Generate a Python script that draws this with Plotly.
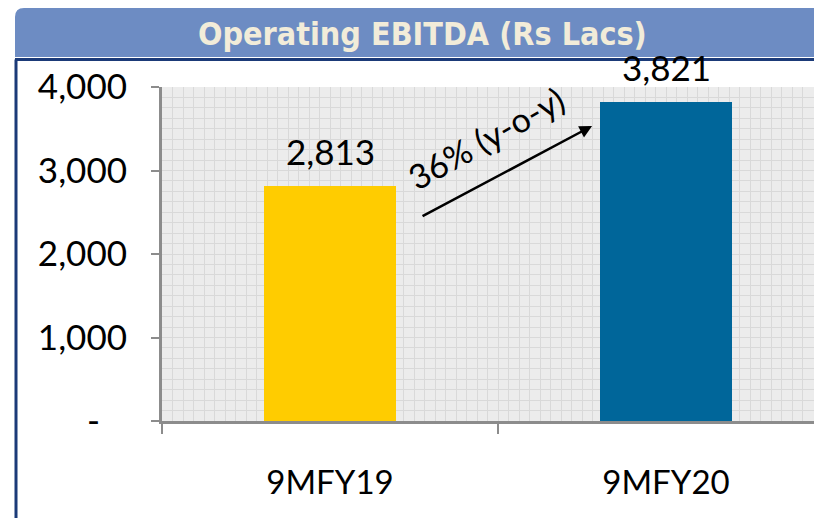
import plotly.graph_objects as go

# ---- data ----
categories = ["9MFY19", "9MFY20"]
ebitda = [2813, 3821]
bar_colors = ["#FFCC00", "#00669A"]
y_tickvals = [0, 1000, 2000, 3000, 4000]
y_ticktext = ["-\u00a0\u00a0\u00a0", "1,000", "2,000", "3,000", "4,000"]
title_text = "Operating EBITDA (Rs Lacs)"
growth_text = "36% (y-o-y)"

FONT = "Lato, 'Open Sans', sans-serif"
AXIS_GRAY = "#8c8c8c"
GRID = "#d9d9d9"

xpos = [i + 0.5 for i in range(len(categories))]

fig = go.Figure()
fig.add_trace(go.Bar(
    x=xpos, y=ebitda, width=0.395,
    marker=dict(color=bar_colors, line=dict(width=0)),
    hoverinfo="skip", showlegend=False,
))
# invisible helper trace for the boundary-tick axis
fig.add_trace(go.Scatter(x=[0, 2], y=[0, 0], xaxis="x2", mode="markers",
                         marker=dict(opacity=0), hoverinfo="skip", showlegend=False))

# data labels
for xp, v in zip(xpos, ebitda):
    fig.add_annotation(x=xp, y=v, text=f"{v:,}", showarrow=False,
                       yanchor="bottom", yshift=12,
                       font=dict(family=FONT, size=35, color="#000"))

# growth arrow + text
fig.add_annotation(x=1.28, y=3533, ax=0.771, ay=2443, xref="x", yref="y",
                   axref="x", ayref="y", showarrow=True, arrowhead=2,
                   arrowsize=1, arrowwidth=2.5, arrowcolor="#000", text="")
fig.add_annotation(x=0.965, y=3390, text=growth_text, showarrow=False,
                   textangle=-29, xanchor="center", yanchor="middle",
                   font=dict(family=FONT, size=34, color="#000"))

# banner and frame
W = 652.0
H = 334.0
def px(x):
    return (x - 162) / W
def py(y):
    return (421 - y) / H

bx0, bx1, bt, bb = px(15), px(830), py(8), py(57)
rx, ry = 9 / W, 9 / H
path = (f"M {bx0},{bb} L {bx0},{bt - ry} Q {bx0},{bt} {bx0 + rx},{bt} "
        f"L {bx1},{bt} L {bx1},{bb} Z")
fig.add_shape(type="path", path=path, xref="paper", yref="paper",
              fillcolor="#6D8CC3", line=dict(width=0))
fig.add_shape(type="line", xref="paper", yref="paper",
              x0=px(15), x1=px(830), y0=py(59.5), y1=py(59.5),
              line=dict(color="#1B3A78", width=3))
fig.add_shape(type="line", xref="paper", yref="paper",
              x0=px(16), x1=px(16), y0=py(59.5), y1=py(530),
              line=dict(color="#1B3A78", width=3))
fig.add_annotation(x=px(422), y=py(34), xref="paper", yref="paper",
                   xanchor="center", yanchor="middle",
                   text=f"<b>{title_text}</b>", showarrow=False,
                   font=dict(family="'DejaVu Sans Condensed', 'DejaVu Sans', sans-serif",
                             size=32, color="#F2ECD9"))

fig.update_layout(
    width=814, height=518,
    margin=dict(l=162, r=0, t=87, b=97),
    paper_bgcolor="white", plot_bgcolor="#ECECEC",
    bargap=0,
    xaxis=dict(
        range=[0, (814 - 162) / 336], showgrid=False, zeroline=False,
        tickvals=xpos, ticktext=categories, ticks="",
        ticklabelstandoff=30,
        tickfont=dict(family=FONT, size=33, color="#000"),
        showline=True, linecolor=AXIS_GRAY, linewidth=3,
        minor=dict(dtick=1 / 32, tick0=0, showgrid=True, gridcolor=GRID, gridwidth=1, ticks=""),
        fixedrange=True,
    ),
    xaxis2=dict(
        overlaying="x", anchor="y", side="bottom",
        range=[0, (814 - 162) / 336], tickvals=[0, 1, 2], ticks="outside",
        ticklen=12, tickwidth=2, tickcolor=AXIS_GRAY, showticklabels=False,
        showgrid=False, zeroline=False, showline=False, fixedrange=True,
    ),
    yaxis=dict(
        range=[0, 4000], tickvals=y_tickvals, ticktext=y_ticktext,
        ticks="outside", ticklen=8, tickwidth=2, tickcolor=AXIS_GRAY,
        ticklabelstandoff=17,
        tickfont=dict(family=FONT, size=35, color="#000"),
        showgrid=True, gridcolor=GRID, gridwidth=1,
        zeroline=False, showline=True, linecolor=AXIS_GRAY, linewidth=3,
        minor=dict(dtick=125, showgrid=True, gridcolor=GRID, gridwidth=1, ticks=""),
        fixedrange=True,
    ),
)

fig.write_html("out.html", config={"displayModeBar": False},
               post_script="document.body.style.margin='0';")
